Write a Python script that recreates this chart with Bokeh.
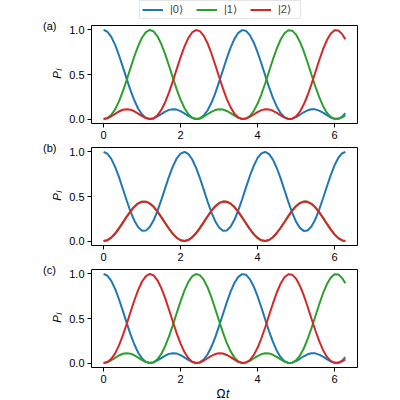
import numpy as np
from bokeh.plotting import figure
from bokeh.models import Range1d, FixedTicker, Label, Legend, LegendItem
from bokeh.layouts import column, row
from bokeh.embed import file_html
from bokeh.resources import INLINE

# ---------------- data ----------------
omega_t = [0.0, 0.1, 0.2, 0.3, 0.4, 0.5, 0.6, 0.7, 0.8, 0.9, 1.0, 1.1, 1.2, 1.3, 1.4, 1.5,
           1.6, 1.7, 1.8, 1.9, 2.0, 2.1, 2.2, 2.3, 2.4, 2.5, 2.6, 2.7, 2.8, 2.9, 3.0, 3.1,
           3.2, 3.3, 3.4, 3.5, 3.6, 3.7, 3.8, 3.9, 4.0, 4.1, 4.2, 4.3, 4.4, 4.5, 4.6, 4.7,
           4.8, 4.9, 5.0, 5.1, 5.2, 5.3, 5.4, 5.5, 5.6, 5.7, 5.8, 5.9, 6.0, 6.1, 6.2, 6.28]

# panel (a)
a_pop0 = [1.000, 0.980, 0.922, 0.832, 0.716, 0.586, 0.451, 0.322, 0.208, 0.116, 0.051, 0.013,
          0.000, 0.007, 0.029, 0.056, 0.083, 0.103, 0.111, 0.106, 0.089, 0.064, 0.036, 0.012,
          0.000, 0.007, 0.038, 0.096, 0.180, 0.288, 0.414, 0.548, 0.681, 0.802, 0.900, 0.968,
          0.998, 0.990, 0.942, 0.860, 0.750, 0.623, 0.488, 0.356, 0.237, 0.139, 0.066, 0.021,
          0.001, 0.004, 0.022, 0.048, 0.076, 0.098, 0.110, 0.109, 0.095, 0.072, 0.044, 0.018,
          0.002, 0.003, 0.027, 0.065]
a_pop1 = [0.000, 0.011, 0.047, 0.109, 0.199, 0.310, 0.438, 0.573, 0.705, 0.822, 0.915, 0.976,
          1.000, 0.984, 0.929, 0.841, 0.728, 0.598, 0.463, 0.333, 0.218, 0.124, 0.056, 0.016,
          0.000, 0.006, 0.026, 0.054, 0.081, 0.101, 0.111, 0.107, 0.091, 0.067, 0.038, 0.014,
          0.001, 0.006, 0.034, 0.089, 0.171, 0.278, 0.402, 0.536, 0.669, 0.792, 0.892, 0.963,
          0.997, 0.992, 0.948, 0.868, 0.761, 0.635, 0.500, 0.368, 0.248, 0.147, 0.072, 0.024,
          0.002, 0.003, 0.020, 0.040]
a_pop2 = [0.000, 0.009, 0.031, 0.059, 0.085, 0.104, 0.111, 0.105, 0.087, 0.061, 0.033, 0.011,
          0.000, 0.009, 0.042, 0.102, 0.189, 0.299, 0.426, 0.561, 0.693, 0.812, 0.908, 0.972,
          0.999, 0.987, 0.936, 0.851, 0.739, 0.610, 0.475, 0.344, 0.227, 0.131, 0.061, 0.018,
          0.001, 0.005, 0.024, 0.051, 0.078, 0.100, 0.110, 0.108, 0.093, 0.069, 0.041, 0.016,
          0.001, 0.004, 0.030, 0.083, 0.163, 0.267, 0.390, 0.523, 0.657, 0.781, 0.884, 0.958,
          0.996, 0.994, 0.953, 0.895]

# panel (b): |1> and |2> coincide
b_pop0 = [1.000, 0.980, 0.922, 0.832, 0.717, 0.587, 0.455, 0.331, 0.228, 0.154, 0.116, 0.117,
          0.157, 0.233, 0.338, 0.462, 0.594, 0.724, 0.838, 0.927, 0.982, 1.000, 0.978, 0.918,
          0.826, 0.710, 0.580, 0.447, 0.325, 0.223, 0.151, 0.115, 0.118, 0.160, 0.238, 0.344,
          0.469, 0.602, 0.730, 0.843, 0.931, 0.984, 1.000, 0.975, 0.914, 0.820, 0.703, 0.572,
          0.440, 0.318, 0.218, 0.148, 0.114, 0.119, 0.164, 0.243, 0.351, 0.477, 0.609, 0.737,
          0.849, 0.935, 0.986, 1.000]
b_pop2 = [0.000, 0.010, 0.039, 0.084, 0.142, 0.207, 0.273, 0.334, 0.386, 0.423, 0.442, 0.442,
          0.422, 0.384, 0.331, 0.269, 0.203, 0.138, 0.081, 0.037, 0.009, 0.000, 0.011, 0.041,
          0.087, 0.145, 0.210, 0.276, 0.338, 0.389, 0.425, 0.443, 0.441, 0.420, 0.381, 0.328,
          0.265, 0.199, 0.135, 0.078, 0.035, 0.008, 0.000, 0.012, 0.043, 0.090, 0.149, 0.214,
          0.280, 0.341, 0.391, 0.426, 0.443, 0.440, 0.418, 0.378, 0.325, 0.262, 0.195, 0.131,
          0.075, 0.033, 0.007, 0.000]
b_pop1 = list(b_pop2)

# panel (c): reversed circulation
c_pop0 = list(a_pop0)
c_pop1 = list(a_pop2)
c_pop2 = list(a_pop1)

state_labels = ["|0⟩", "|1⟩", "|2⟩"]
panel_tags = ["(a)", "(b)", "(c)"]
x_ticks = [0, 2, 4, 6]
y_ticks = [0, 0.5, 1.0]
y_tick_labels = ["0.0", "0.5", "1.0"]

# ---------------- layout / styling ----------------
COLORS = ["#1f77b4", "#2ca02c", "#d62728"]
FONT = "Liberation Sans"
TOTAL_H = 400
STRIP_W = 62                  # left strip holding (a)/(b)/(c) and P_j
COL_W = 322                   # right column holding the panels
FL, FW, FH = 29, 266, 98
FR = COL_W - FL - FW
LEG_H, XL_H = 21, 14
PANEL_BORDERS = [(4, 19), (5, 19), (5, 19)]   # (top, bottom) of each panel figure


def blank_fig(w, h, xr, yr):
    p = figure(width=w, height=h, output_backend="svg", toolbar_location=None,
               x_range=xr, y_range=yr, x_axis_type=None, y_axis_type=None,
               min_border=0, min_border_left=0, min_border_right=0,
               min_border_top=0, min_border_bottom=0)
    p.outline_line_color = None
    p.grid.visible = False
    return p


def make_panel(top, bottom):
    p = figure(width=COL_W, height=top + FH + bottom, output_backend="svg",
               toolbar_location=None,
               x_range=Range1d(-0.314, 6.597), y_range=Range1d(-0.05, 1.05),
               min_border_left=FL, min_border_right=FR, min_border_top=top,
               min_border_bottom=bottom)
    p.outline_line_color = "black"
    p.outline_line_width = 1
    p.outline_line_alpha = 1
    p.grid.visible = False
    p.xaxis.ticker = FixedTicker(ticks=x_ticks)
    p.yaxis.ticker = FixedTicker(ticks=y_ticks)
    p.yaxis.major_label_overrides = {float(v): s for v, s in zip(y_ticks, y_tick_labels)}
    for ax in p.axis:
        ax.axis_line_color = None
        ax.major_tick_line_color = "black"
        ax.major_tick_line_width = 1
        ax.major_tick_in = 0
        ax.major_tick_out = 4
        ax.minor_tick_line_color = None
        ax.major_label_text_font = FONT
        ax.major_label_text_font_size = "11px"
        ax.major_label_text_color = "black"
        ax.major_label_standoff = 3
    return p


# legend strip on top (its frame is aligned with the panel frames below)
leg_fig = blank_fig(COL_W, LEG_H, Range1d(0, 1), Range1d(0, 1))
leg_rs = [leg_fig.line([2, 3], [2, 3], color=c, line_width=2) for c in COLORS]
legend = Legend(items=[LegendItem(label=lab, renderers=[r])
                       for lab, r in zip(state_labels, leg_rs)],
                orientation="horizontal", location=(48, 2.5), margin=0, padding=2,
                spacing=6, glyph_width=21, glyph_height=11, label_height=11,
                label_standoff=7, label_text_font=FONT, label_text_font_size="11px",
                border_line_color="#cccccc", border_line_width=1, background_fill_alpha=0.8)
leg_fig.add_layout(legend)

# the three panels
panels = [make_panel(t, b) for t, b in PANEL_BORDERS]
for fig, pops in zip(panels, [[a_pop0, a_pop1, a_pop2],
                              [b_pop0, b_pop1, b_pop2],
                              [c_pop0, c_pop1, c_pop2]]):
    for y, c in zip(pops, COLORS):
        fig.line(omega_t, y, color=c, line_width=2)

# x-axis label strip at the bottom (frame aligned with the panel frames)
xl_fig = blank_fig(COL_W, XL_H, Range1d(0, FW), Range1d(0, XL_H))
xl_fig.add_layout(Label(x=134, y=XL_H / 2 - 0.5, text="Ω", text_font=FONT,
                        text_font_size="12px", text_align="right", text_baseline="middle",
                        text_color="black"))
xl_fig.add_layout(Label(x=134.5, y=XL_H / 2 - 0.5, text="t", text_font=FONT,
                        text_font_size="12px", text_font_style="italic", text_align="left",
                        text_baseline="middle", text_color="black"))

# left strip: panel tags and y-axis labels (coordinates in pixels, y downwards)
strip = blank_fig(STRIP_W, TOTAL_H, Range1d(0, STRIP_W), Range1d(TOTAL_H, 0))
y0 = LEG_H
for (t, b), tag in zip(PANEL_BORDERS, panel_tags):
    frame_top = y0 + t
    mid = frame_top + FH / 2
    strip.add_layout(Label(x=42.5, y=frame_top + 0.5, text=tag, text_font=FONT,
                           text_font_size="11px", text_align="left",
                           text_baseline="middle", text_color="black"))
    strip.add_layout(Label(x=56, y=mid + 0.5, text="P", angle=np.pi / 2, text_font=FONT,
                           text_font_size="11.5px", text_font_style="italic",
                           text_align="center", text_baseline="alphabetic",
                           text_color="black"))
    strip.add_layout(Label(x=58, y=mid - 4, text="j", angle=np.pi / 2, text_font=FONT,
                           text_font_size="8px", text_font_style="italic",
                           text_align="left", text_baseline="alphabetic",
                           text_color="black"))
    y0 += t + FH + b

layout = row(strip, column(leg_fig, *panels, xl_fig))
open("out.html", "w").write(file_html(layout, INLINE))
